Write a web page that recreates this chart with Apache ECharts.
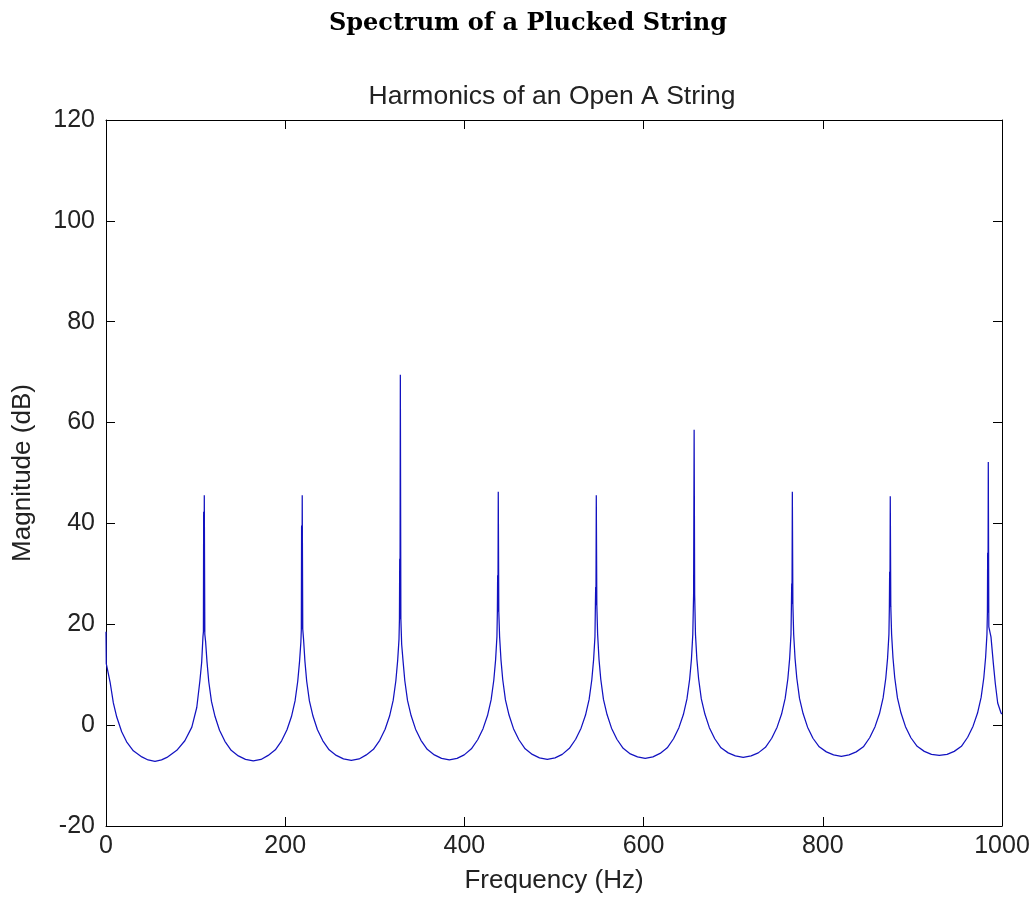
<!DOCTYPE html>
<html>
<head>
<meta charset="utf-8">
<style>html,body{margin:0;padding:0;background:#fff;overflow:hidden}#c{width:1034px;height:901px}</style>
<script src="https://cdn.jsdelivr.net/npm/echarts@6/dist/echarts.min.js"></script>
</head>
<body>
<div id="c"></div>
<script>
// Axis ranges
const xRange = [0, 1000, 200];
const yRange = [-20, 120, 20];

// Spectrum samples [Hz, dB], one lobe (trough + harmonic spike) per array
const lobe1 = [[0,18.5],[0.3,12.2],[1.5,11.9],[4.5,8.6],[8.2,4.4],[12,1.6],[17.5,-1.3],[23,-3.3],[30.5,-5.1],[40,-6.3],[47,-6.9],[54.7,-7.2],[62,-6.9],[68,-6.4],[79,-5.0],[88,-3.1],[95.8,-0.4],[101.3,3.5],[104.8,8.8],[106.8,12.5],[108.2,17.5],
  [108.7,18.5],[109.0,42.3],[109.3,18.5],[109.7,45.6],[110.3,18]];
const lobe2 = [[111.2,16.5],[112.7,12.6],[114.7,8.6],[117.7,4.7],[121.7,1.7],[126.7,-1.0],[132.7,-3.2],[139.7,-5.0],[147.7,-6.1],[155.7,-6.8],[164.4,-7.1],[173,-6.8],[181,-6.0],[189,-4.9],[196,-3.1],[202,-0.9],[207,1.7],[211,4.8],[214,8.7],[216,12.6],[217.5,16.5],
  [218.0,19],[218.3,39.6],[218.6,19],[219.0,45.6],[219.6,19]];
const lobe3 = [[220.5,17],[222,12.7],[224,8.7],[227,4.8],[231,1.8],[236,-0.9],[242,-3.1],[249,-4.9],[257,-6.0],[265,-6.7],[273.8,-7.0],[282.5,-6.7],[290.5,-5.9],[298.5,-4.8],[305.5,-3.0],[311.5,-0.8],[316.5,1.8],[320.5,4.9],[323.5,8.8],[325.5,12.8],[327,17],
  [327.5,21],[327.8,33],[328.1,21],[328.5,69.5],[329.1,21]];
const lobe4 = [[330,16],[331.5,12.8],[333.5,8.8],[336.5,4.9],[340.5,1.9],[345.5,-0.8],[351.5,-3.0],[358.5,-4.8],[366.5,-5.9],[374.5,-6.6],[383.2,-6.9],[391.8,-6.6],[399.8,-5.9],[407.8,-4.7],[414.8,-2.9],[420.8,-0.7],[425.8,1.9],[429.8,5.0],[432.8,8.9],[434.8,12.9],[436.3,17.5],
  [436.8,22.5],[437.1,29.7],[437.4,22.5],[437.8,46.3],[438.4,22.5]];
const lobe5 = [[439.3,17.5],[440.8,13],[442.8,9],[445.8,5],[449.8,2],[454.8,-0.7],[460.8,-2.9],[467.8,-4.7],[475.8,-5.8],[483.8,-6.5],[492.5,-6.8],[501.2,-6.5],[509.2,-5.8],[517.2,-4.6],[524.2,-2.8],[530.2,-0.6],[535.2,2],[539.2,5.1],[542.2,9],[544.2,13],[545.7,17.5],
  [546.2,23.8],[546.5,27.4],[546.8,23.8],[547.2,45.6],[547.8,23.8]];
const lobe6 = [[548.7,18],[550.2,13.1],[552.2,9.1],[555.2,5.1],[559.2,2.1],[564.2,-0.6],[570.2,-2.8],[577.2,-4.6],[585.2,-5.7],[593.2,-6.3],[601.8,-6.6],[610.4,-6.3],[618.4,-5.6],[626.4,-4.5],[633.4,-2.7],[639.4,-0.5],[644.4,2.1],[648.4,5.2],[651.4,9.1],[653.4,13.1],[654.9,18],
  [655.8,25.8],[656.4,58.6],[657.0,25.8]];
const lobe7 = [[657.9,18],[659.4,13.2],[661.4,9.2],[664.4,5.2],[668.4,2.2],[673.4,-0.5],[679.4,-2.7],[686.4,-4.5],[694.4,-5.5],[702.4,-6.1],[711.2,-6.4],[720,-6.1],[728,-5.5],[736,-4.4],[743,-2.6],[749,-0.4],[754,2.2],[758,5.3],[761,9.2],[763,13.2],[764.5,18],
  [765.0,24],[765.3,28.1],[765.6,24],[766.0,46.3],[766.6,24]];
const lobe8 = [[767.5,18],[769,13.3],[771,9.3],[774,5.3],[778,2.3],[783,-0.4],[789,-2.6],[796,-4.3],[804,-5.3],[812,-5.9],[820.7,-6.2],[829.3,-5.9],[837.3,-5.3],[845.3,-4.3],[852.3,-2.5],[858.3,-0.3],[863.3,2.3],[867.3,5.4],[870.3,9.3],[872.3,13.3],[873.8,18],
  [874.3,23.5],[874.6,30.4],[874.9,23.5],[875.3,45.4],[875.9,23.5]];
const lobe9 = [[876.8,18],[878.3,13.4],[880.3,9.4],[883.3,5.4],[887.3,2.4],[892.3,-0.3],[898.3,-2.5],[905.3,-4.2],[913.3,-5.2],[921.3,-5.8],[930,-6.0],[938.7,-5.8],[946.7,-5.2],[954.7,-4.2],[961.7,-2.4],[967.7,-0.2],[972.7,2.4],[976.7,5.5],[979.7,9.4],[981.7,13.4],[983.2,18],
  [983.7,22.3],[984.0,34.2],[984.3,22.3],[984.7,52.2],[985.3,19.5]];
const tail = [[987.7,17.5],[990.3,12.3],[992.5,8.3],[995.2,4.4],[998.9,2.4],[1000,2.2]];

const spectrum = [].concat(lobe1, lobe2, lobe3, lobe4, lobe5, lobe6, lobe7, lobe8, lobe9, tail);

const font = 'Liberation Sans, Arial, Helvetica, sans-serif';
const axisCommon = {
  type: 'value',
  splitLine: { show: false },
  axisLine: { show: true, onZero: false, lineStyle: { color: '#000', width: 1 } },
  axisTick: { show: true, inside: true, length: 9, lineStyle: { color: '#000', width: 1 } }
};
const plain = v => String(v);

const chart = echarts.init(document.getElementById('c'), null, { renderer: 'canvas' });
chart.setOption({
  animation: false,
  backgroundColor: '#fff',
  title: [
    { text: 'Spectrum of a Plucked String', left: 523, top: 7, textAlign: 'center',
      textStyle: { fontFamily: 'DejaVu Serif', fontWeight: 'bold', fontSize: 24, color: '#000' } },
    { text: 'Harmonics of an Open A String', left: 547, top: 78, textAlign: 'center',
      textStyle: { fontFamily: font, fontWeight: 'normal', fontSize: 26.5, color: '#222' } }
  ],
  grid: { left: 106, right: 32, top: 120, bottom: 75, containLabel: false },
  xAxis: [
    Object.assign({}, axisCommon, {
      position: 'bottom', min: xRange[0], max: xRange[1], interval: xRange[2],
      name: 'Frequency (Hz)', nameLocation: 'middle', nameGap: 42,
      nameTextStyle: { fontFamily: font, fontSize: 26, color: '#222' },
      axisLabel: { fontFamily: font, fontSize: 25, color: '#222', margin: 8, formatter: plain }
    }),
    Object.assign({}, axisCommon, {
      position: 'top', min: xRange[0], max: xRange[1], interval: xRange[2],
      axisLabel: { show: false }
    })
  ],
  yAxis: [
    Object.assign({}, axisCommon, {
      position: 'left', min: yRange[0], max: yRange[1], interval: yRange[2],
      name: 'Magnitude (dB)', nameLocation: 'middle', nameGap: 70,
      nameTextStyle: { fontFamily: font, fontSize: 26, color: '#222' },
      axisLabel: { fontFamily: font, fontSize: 25, color: '#222', margin: 11, formatter: plain }
    }),
    Object.assign({}, axisCommon, {
      position: 'right', min: yRange[0], max: yRange[1], interval: yRange[2],
      axisLabel: { show: false }
    })
  ],
  series: [{
    type: 'line',
    xAxisIndex: 0, yAxisIndex: 0,
    data: spectrum,
    showSymbol: false,
    symbol: 'none',
    sampling: null,
    lineStyle: { color: '#1212c0', width: 1.25 },
    z: 1
  }]
});
</script>
</body>
</html>
